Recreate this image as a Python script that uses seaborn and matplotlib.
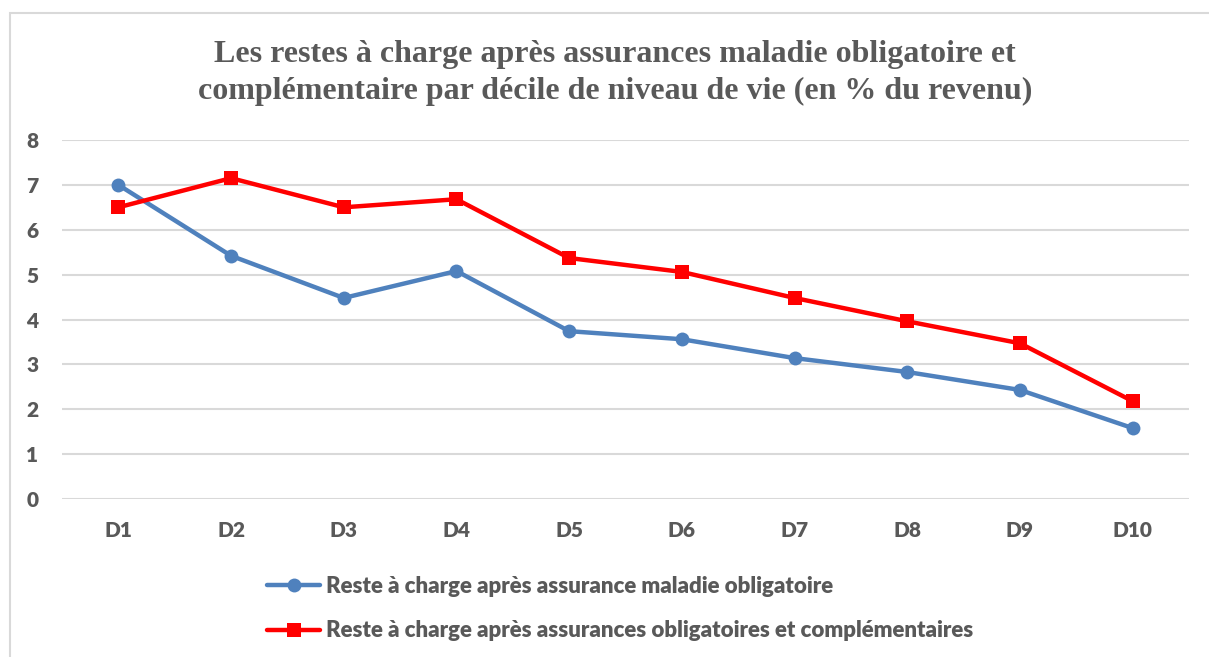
import matplotlib
matplotlib.use("Agg")
import matplotlib.pyplot as plt
from matplotlib.patches import Rectangle
from matplotlib.lines import Line2D
import seaborn as sns
import pandas as pd

sns.set_style("white")

# data
deciles = ['D1', 'D2', 'D3', 'D4', 'D5', 'D6', 'D7', 'D8', 'D9', 'D10']
amo = [7.0, 5.42, 4.48, 5.08, 3.74, 3.56, 3.14, 2.83, 2.43, 1.58]
amo_amc = [6.5, 7.15, 6.5, 6.68, 5.37, 5.06, 4.48, 3.96, 3.47, 2.18]
label_amo = 'Reste à charge après assurance maladie obligatoire'
label_amc = 'Reste à charge après assurances obligatoires et complémentaires'
y_ticks = [0, 1, 2, 3, 4, 5, 6, 7, 8]

df = pd.DataFrame({'Décile': deciles * 2,
                   'valeur': amo + amo_amc,
                   'serie': [label_amo] * 10 + [label_amc] * 10})

grey = '#595959'
blue, red = '#4F81BD', '#FF0000'
fig = plt.figure(figsize=(12.09, 6.57), dpi=100)
W, H = 1209, 657
ax = fig.add_axes([62 / W, 1 - 499 / H, (1189 - 62) / W, (499 - 140) / H])

# outer frame (only top and left visible in the reference)
fig.patches.append(Rectangle((10 / W, -0.1), 1.2, 1 - 13 / H + 0.1,
                             transform=fig.transFigure, fill=False,
                             edgecolor='#D9D9D9', lw=1.5))

sns.lineplot(data=df, x='Décile', y='valeur', hue='serie', style='serie',
             palette=[blue, red], markers=['o', 's'], dashes=False,
             lw=3.2, markersize=10, markeredgewidth=0, sort=False, ax=ax,
             legend=False)

ax.set_xlim(-0.5, 9.5)
ax.set_ylim(0, 8)
ax.set_yticks(y_ticks)
ax.grid(axis='y', color='#D9D9D9', lw=1.5)
ax.set_axisbelow(True)
for s in ax.spines.values():
    s.set_visible(False)
ax.set_xlabel('')
ax.set_ylabel('')
ax.tick_params(length=0, labelsize=15, colors=grey)
ax.tick_params(axis='x', pad=16)
ax.tick_params(axis='y', pad=17)
for t in ax.get_xticklabels() + ax.get_yticklabels():
    t.set_fontfamily('Lato')
    t.set_fontweight('heavy')

fig.text(615 / W, 1 - 73 / H,
         'Les restes à charge après assurances maladie obligatoire et\n'
         'complémentaire par décile de niveau de vie (en % du revenu)',
         ha='center', va='center', fontsize=23, fontweight='bold',
         family='Liberation Serif', color=grey, linespacing=1.35)

h1 = Line2D([], [], color=blue, lw=3.2, marker='o', markersize=10, markeredgewidth=0)
h2 = Line2D([], [], color=red, lw=3.2, marker='s', markersize=10, markeredgewidth=0)
leg = fig.legend([h1, h2], [label_amo, label_amc], loc='upper left',
                 bbox_to_anchor=(247 / W, 1 - 556 / H), frameon=False,
                 handlelength=2.4, handletextpad=0.25, labelspacing=1.05,
                 prop={'family': 'Lato', 'weight': 'heavy', 'size': 16})
for t in leg.get_texts():
    t.set_color(grey)

fig.savefig('out.png', dpi=100)
